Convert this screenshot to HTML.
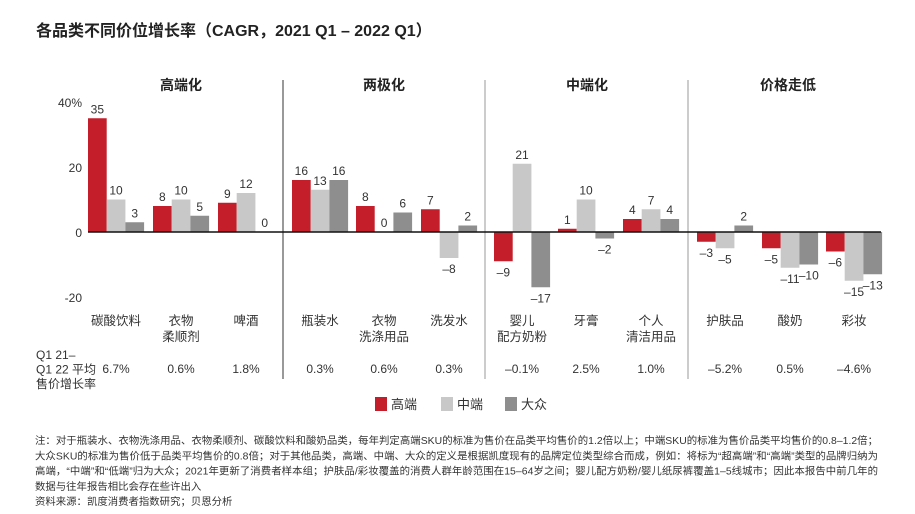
<!DOCTYPE html>
<html><head><meta charset="utf-8">
<style>
body{margin:0;background:#fff;}
#wrap{position:relative;width:915px;height:514px;overflow:hidden;font-family:"Liberation Sans","Noto Sans CJK SC",sans-serif;}
svg text{font-family:"Liberation Sans","Noto Sans CJK SC",sans-serif;}
</style></head>
<body>
<div id="wrap">
<svg id="chart" width="915" height="514"></svg>
</div>
<script>
const categories=[["碳酸饮料"],["衣物","柔顺剂"],["啤酒"],["瓶装水"],["衣物","洗涤用品"],["洗发水"],["婴儿","配方奶粉"],["牙膏"],["个人","清洁用品"],["护肤品"],["酸奶"],["彩妆"]];
const premiumVals=[35,8,9,16,8,7,-9,1,4,-3,-5,-6];
const midVals=[10,10,12,13,0,-8,21,10,7,-5,-11,-15];
const massVals=[3,5,0,16,6,2,-17,-2,4,2,-10,-13];
const priceGrowth=["6.7%","0.6%","1.8%","0.3%","0.6%","0.3%","–0.1%","2.5%","1.0%","–5.2%","0.5%","–4.6%"];
const sectionTitles=["高端化","两极化","中端化","价格走低"];
const yTicks=[40,20,0,-20];
const yTickLabels=["40%","20","0","-20"];

const NS="http://www.w3.org/2000/svg";
const svg=document.getElementById('chart');
function mk(tag,attrs,text){const e=document.createElementNS(NS,tag);for(const k in attrs)e.setAttribute(k,attrs[k]);if(text!==undefined)e.textContent=text;svg.appendChild(e);return e;}
const y=v=>232-v*3.25;
const groupX=[88,153,218,292,356,421,494,558,623,697,762,826];
const bw=18.7;
const colors=["#c41e2a","#c8c8c8","#8e8e8e"];
const series=[premiumVals,midVals,massVals];
const sepX=[283,485,688];
const sectionCenters=[181,384,587,788];

let t=mk('text',{x:36,y:36,'font-size':16,'font-weight':'bold',fill:'#222'},"各品类不同价位增长率（CAGR，2021 Q1 – 2022 Q1）");


sectionTitles.forEach((s,i)=>{const e=mk('text',{x:sectionCenters[i],y:90,'font-size':14,'font-weight':'bold','text-anchor':'middle',fill:'#222'},s);
});

sepX.forEach((x,i)=>{const e=mk('line',{x1:x,x2:x,y1:80,y2:379,stroke:i==0?'#333':'#999','stroke-width':1});
});

yTicks.forEach((v,i)=>{const e=mk('text',{x:82,y:y(v)+5,'font-size':12,'text-anchor':'end',fill:'#333'},yTickLabels[i]);
});

categories.forEach((c,g)=>{
  series.forEach((vals,s)=>{
    const v=vals[g];const x=groupX[g]+s*bw;
    const top=Math.min(y(v),y(0));const h=Math.abs(y(v)-y(0));
    const r=mk('rect',{x:x,y:top,width:bw,height:Math.max(h,0.01),fill:colors[s]});
    
    const ly=v>=0?y(v)-5:y(v)+15;
    const lab=mk('text',{x:x+bw/2,y:ly,'font-size':12,'text-anchor':'middle',fill:'#333'},v<0?'–'+Math.abs(v):String(v));
    
  });
  const cx=groupX[g]+bw*1.5;
  c.forEach((line,li)=>{const e=mk('text',{x:cx,y:325+li*16,'font-size':12.5,'text-anchor':'middle',fill:'#333'},line);
    });
  const p=mk('text',{x:cx,y:373,'font-size':12,'text-anchor':'middle',fill:'#333'},priceGrowth[g]);
  
});
const zl=mk('line',{x1:88,x2:881,y1:y(0),y2:y(0),stroke:'#111','stroke-width':1.5});


["Q1 21–","Q1 22 平均","售价增长率"].forEach((s,i)=>{const e=mk('text',{x:36,y:359+i*14.5,'font-size':12,fill:'#333'},s);
});

const legend=[["高端",375],["中端",441],["大众",505]];
legend.forEach((l,i)=>{const r=mk('rect',{x:l[1],y:397,width:12,height:14,fill:colors[i]});

const e=mk('text',{x:l[1]+16,y:409,'font-size':13,fill:'#333'},l[0]);
});

const notes=["注：对于瓶装水、衣物洗涤用品、衣物柔顺剂、碳酸饮料和酸奶品类，每年判定高端SKU的标准为售价在品类平均售价的1.2倍以上；中端SKU的标准为售价品类平均售价的0.8–1.2倍；",
"大众SKU的标准为售价低于品类平均售价的0.8倍；对于其他品类，高端、中端、大众的定义是根据凯度现有的品牌定位类型综合而成，例如：将标为“超高端”和“高端”类型的品牌归纳为",
"高端，“中端”和“低端”归为大众；2021年更新了消费者样本组；护肤品/彩妆覆盖的消费人群年龄范围在15–64岁之间；婴儿配方奶粉/婴儿纸尿裤覆盖1–5线城市；因此本报告中前几年的",
"数据与往年报告相比会存在些许出入","资料来源：凯度消费者指数研究；贝恩分析"];
notes.forEach((s,i)=>{const e=mk('text',{x:35,y:444+i*15.3,'font-size':10.4,fill:'#333',textLength:i<3?843:null});
if(i>=3)e.removeAttribute('textLength');e.textContent=s;
});
</script>
</body></html>
